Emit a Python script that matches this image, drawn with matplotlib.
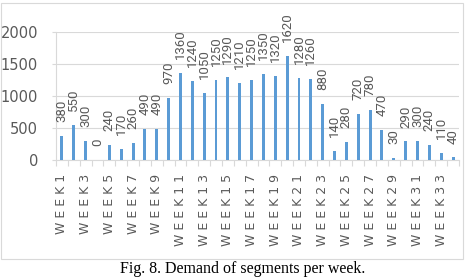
import matplotlib
matplotlib.use("Agg")
import matplotlib.pyplot as plt
from matplotlib.patches import Rectangle
import numpy as np

# demand per week
weeks = ["WEEK%d" % (i + 1) for i in range(34)]
demand = [380, 550, 300, 0, 240, 170, 260, 490, 490, 970,
          1360, 1240, 1050, 1250, 1290, 1210, 1250, 1350, 1320, 1620,
          1280, 1260, 880, 140, 280, 720, 780, 470, 30, 290,
          300, 240, 110, 40]
yticks = [0, 500, 1000, 1500, 2000]

W, H = 469, 278
fig = plt.figure(figsize=(W / 100, H / 100), dpi=100)
ax = fig.add_axes([56 / W, 1 - 160 / H, (459 - 56) / W, 128 / H])

gray = "#595959"
light = "#D9D9D9"
x = np.arange(len(demand))
ax.bar(x, demand, width=0.25, color="#5B9BD5", zorder=3)

# value labels above each bar
for xi, v in zip(x, demand):
    ax.annotate(str(v), (xi, v), xytext=(0, 10), textcoords="offset points",
                rotation=90, ha="center", va="bottom", fontsize=9.5, color=gray,
                family=["Liberation Sans Narrow", "Roboto"])

ax.set_xlim(-0.5, len(demand) - 0.5)
ax.set_ylim(0, 2000)
ax.set_yticks(yticks)
ax.set_yticklabels([str(t) for t in yticks], fontsize=10.5, color=gray)
ax.tick_params(axis="y", length=3, color=light, width=0.8, pad=10)

# every other week label, letters spaced out
ax.set_xticks(x[::2])
ax.set_xticklabels([" ".join(w) for w in weeks[::2]], rotation=90,
                   fontsize=9, color=gray)
ax.tick_params(axis="x", which="major", length=0, pad=10)
ax.set_xticks(np.arange(-0.5, len(demand), 1), minor=True)
ax.tick_params(axis="x", which="minor", length=4, color=light, width=0.8)

ax.grid(axis="y", color=light, linewidth=0.8, zorder=0)
for s in ["top", "right"]:
    ax.spines[s].set_visible(False)
ax.spines["bottom"].set_color(light)
ax.spines["left"].set_color(light)
ax.spines["left"].set_linewidth(0.8)

# chart border
fig.patches.append(Rectangle((1 / W, 1 - 259 / H), 462 / W, 256 / H,
                             transform=fig.transFigure, fill=False,
                             edgecolor=light, linewidth=0.8))

fig.text(243 / W, 1 - 269 / H, "Fig. 8. Demand of segments per week.",
         ha="center", va="center", fontsize=11.5, family="Liberation Serif")

fig.savefig("out.png", dpi=100)
